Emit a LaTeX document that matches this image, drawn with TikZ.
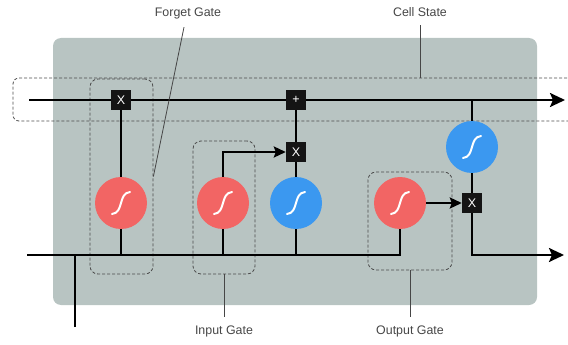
\documentclass[tikz,border=0pt]{standalone}
\usepackage{fontspec}
\setsansfont{Liberation Sans}
\usetikzlibrary{arrows.meta, positioning, calc}
\definecolor{cellgray}{RGB}{184,196,194}
\definecolor{gatered}{RGB}{242,101,100}
\definecolor{tanhblue}{RGB}{59,152,240}
\definecolor{labelgray}{RGB}{70,70,70}

\begin{document}
\begin{tikzpicture}[x=1pt, y=-1pt,
  opbox/.style={fill=black!92, text=white, minimum size=20pt, inner sep=0pt,
                font=\sffamily\fontsize{12.5}{12.5}\selectfont},
  act/.style={circle, minimum size=52pt, inner sep=0pt,
              path picture={\draw[white, line width=2pt, line cap=round]
                ($(path picture bounding box.center)+(-9pt,-11pt)$)
                .. controls +(12pt,1pt) and +(-12pt,-1pt) ..
                ($(path picture bounding box.center)+(9pt,11pt)$);}},
  sigact/.style={act, fill=gatered},
  tanhact/.style={act, fill=tanhblue},
  gatebox/.style={draw=black!70, dash pattern=on 3pt off 2pt, rounded corners=8pt,
                  line width=0.8pt, inner sep=0pt},
  lbl/.style={font=\sffamily\fontsize{12.4}{14}\selectfont, text=labelgray},
  wire/.style={line width=2.4pt},
  arr/.style={wire, -{Stealth[length=12pt, width=11pt, inset=2pt]}},
  bigarr/.style={wire, -{Stealth[length=15pt, width=14pt, inset=3pt]}},
  pointer/.style={labelgray, line width=0.8pt}]
  \useasboundingbox (0,0) rectangle (568,345);
  \fill[cellgray, rounded corners=8pt] (53,38) rectangle (537,305);
  % dashed regions
  \node[gatebox, minimum width=620pt, minimum height=43pt, rounded corners=6pt] (cbox) at (323,99.5) {};
  \node[gatebox, minimum width=63pt, minimum height=195pt] (fbox) at (121.5,176.5) {};
  \node[gatebox, minimum width=62pt, minimum height=133pt] (ibox) at (224,207.5) {};
  \node[gatebox, minimum width=84pt, minimum height=98pt] (obox) at (410,221) {};
  % operations
  \node[opbox] (fx) at (121,100) {X};
  \node[opbox] (plus) at (296,100) {+};
  \node[opbox] (ix) at (296,152) {X};
  \node[opbox] (ox) at (472,203) {X};
  % activations
  \node[sigact] (fsig) at (121,203) {};
  \node[sigact] (isig) at (223,203) {};
  \node[tanhact] (itanh) at (296,203) {};
  \node[sigact] (osig) at (400,203) {};
  \node[tanhact] (otanh) at (472,147) {};
  % ends
  \coordinate (cin) at (29,100);
  \coordinate (cout) at (565,100);
  \coordinate (hin) at (27,255);
  \coordinate (hout) at (564,255);
  \coordinate (xin) at (75,327);
  % labels
  \node[lbl] (flabel) at (188,13) {Forget Gate};
  \node[lbl] (clabel) at (420,12) {Cell State};
  \node[lbl] (ilabel) at (224,331) {Input Gate};
  \node[lbl] (olabel) at (410,331) {Output Gate};
  % cell state line
  \draw[wire] (cin) -- (fx);
  \draw[wire] (fx) -- (plus);
  \draw[bigarr] (plus) -- (cout);
  \draw[wire] (otanh) -- (otanh |- cin);
  % hidden / input line
  \draw[wire] (hin) -- (osig |- hin) -- (osig);
  \draw[wire] (xin) -- (xin |- hin);
  \draw[wire] (fsig) -- (fsig |- hin);
  \draw[wire] (isig) -- (isig |- hin);
  \draw[wire] (itanh) -- (itanh |- hin);
  % gates
  \draw[wire] (fsig) -- (fx);
  \draw[arr] (isig) |- (ix);
  \draw[wire] (itanh) -- (ix);
  \draw[wire] (ix) -- (plus);
  \draw[arr] (osig) -- (ox);
  \draw[wire] (otanh) -- (ox);
  \draw[bigarr] (ox) |- (hout);
  % pointers
  \draw[pointer] ([xshift=-4pt,yshift=-5pt]flabel.south) -- (fbox.east);
  \draw[pointer] ([yshift=-5pt]clabel.south) -- (clabel |- cbox.north);
  \draw[pointer] (ibox.south) -- ([yshift=5pt]ilabel.north);
  \draw[pointer] (obox.south) -- ([yshift=5pt]olabel.north);
\end{tikzpicture}
\end{document}
